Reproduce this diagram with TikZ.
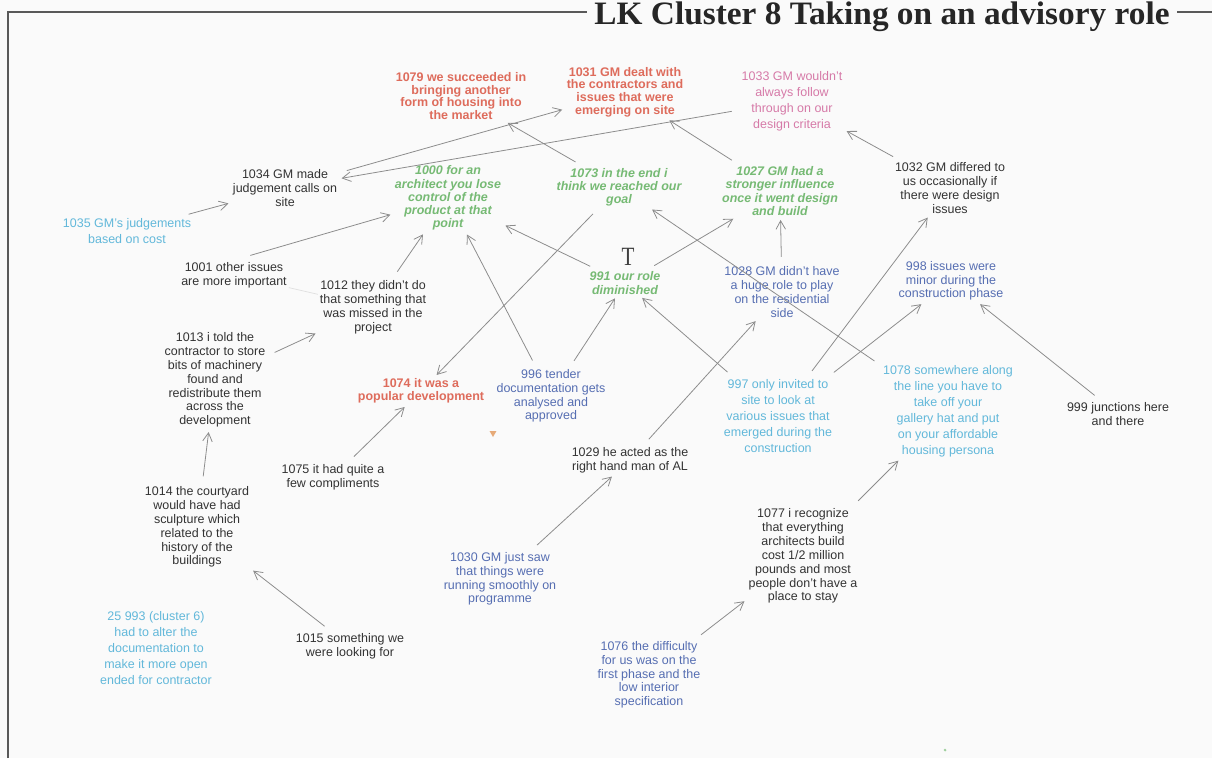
\documentclass[tikz,border=0pt]{standalone}
\usepackage{fontspec}
\setmainfont{Liberation Sans}
\newfontfamily\titlefont{Liberation Serif}
\usetikzlibrary{arrows.meta,positioning,shapes.geometric}
\definecolor{redtext}{RGB}{222,108,92}
\definecolor{pinktext}{RGB}{214,122,168}
\definecolor{greentext}{RGB}{118,186,116}
\definecolor{bluetext}{RGB}{86,110,178}
\definecolor{cyantext}{RGB}{98,184,218}
\definecolor{orangemark}{RGB}{230,170,120}

\begin{document}
\begin{tikzpicture}[x=0.02cm, y=-0.02cm,
  main node/.style={align=center, inner sep=1pt, text=black!80, font=\fontsize{7.1}{7.9}\selectfont},
  wide node/.style={main node, font=\fontsize{7.1}{9.1}\selectfont},
  red node/.style={main node, text=redtext, font=\fontsize{7.1}{7.2}\selectfont\bfseries},
  green node/.style={main node, text=greentext, font=\fontsize{7.1}{7.5}\selectfont\bfseries\itshape},
  blue node/.style={main node, text=bluetext, font=\fontsize{7.1}{7.8}\selectfont},
  cyan node/.style={wide node, text=cyantext},
  pink node/.style={wide node, text=pinktext}]
\fill[white!98!black] (0,0) rectangle (1212,758);
\useasboundingbox (0,0) rectangle (1212,758);
% heading and frame
\node[font=\titlefont\bfseries\fontsize{18.6}{20}\selectfont, text=black!85, anchor=base, inner xsep=4pt, xscale=1.02] (title) at (882,24) {LK Cluster 8 Taking on an advisory role};
\coordinate (frametop) at (8,12);
\coordinate (framebot) at (8,758);
\draw[black!65, line width=1pt] (framebot) -- (frametop) -- (frametop -| title.west);
\draw[black!65, line width=1pt] (title.east |- frametop) -- (1212,12);
\begin{scope}
\node[red node] (v1079) at (461,96) {1079 we succeeded in\\bringing another\\form of housing into\\the market};
\node[red node] (v1031) at (625,92) {1031 GM dealt with\\the contractors and\\issues that were\\emerging on site};
\node[pink node] (v1033) at (792,101) {1033 GM wouldn't\\always follow\\through on our\\design criteria};
\node[main node] (v1034) at (285,188) {1034 GM made\\judgement calls on\\site};
\node[cyan node] (v1035) at (127,231) {1035 GM's judgements\\based on cost};
\node[green node] (v1000) at (448,198) {1000 for an\\architect you lose\\control of the\\product at that\\point};
\node[green node] (v1073) at (619,187) {1073 in the end i\\think we reached our\\goal};
\node[green node] (v1027) at (780,191) {1027 GM had a\\stronger influence\\once it went design\\and build};
\node[main node] (v1032) at (950,188) {1032 GM differed to\\us occasionally if\\there were design\\issues};
\node[main node] (v1001) at (234,275) {1001 other issues\\are more important};
\node[main node] (v1012) at (373,307) {1012 they didn't do\\that something that\\was missed in the\\project};
\node[green node] (v991) at (625,283) {991 our role\\diminished};
\node[blue node] (v1028) at (782,292) {1028 GM didn't have\\a huge role to play\\on the residential\\side};
\node[blue node] (v998) at (951,281) {998 issues were\\minor during the\\construction phase};
\node[main node] (v1013) at (215,380) {1013 i told the\\contractor to store\\bits of machinery\\found and\\redistribute them\\across the\\development};
\node[red node] (v1074) at (421,391) {1074 it was a\\popular development};
\node[blue node] (v996) at (551,396) {996 tender\\documentation gets\\analysed and\\approved};
\node[cyan node] (v997) at (778,416) {997 only invited to\\site to look at\\various issues that\\emerged during the\\construction};
\node[cyan node] (v1078) at (948,411) {1078 somewhere along\\the line you have to\\take off your\\gallery hat and put\\on your affordable\\housing persona};
\node[main node] (v999) at (1118,414) {999 junctions here\\and there};
\node[main node] (v1075) at (333,477) {1075 it had quite a\\few compliments};
\node[main node] (v1029) at (630,460) {1029 he acted as the\\right hand man of AL};
\node[main node] (v1014) at (197,527) {1014 the courtyard\\would have had\\sculpture which\\related to the\\history of the\\buildings};
\node[blue node] (v1030) at (500,579) {1030 GM just saw\\that things were\\running smoothly on\\programme};
\node[main node] (v1077) at (803,556) {1077 i recognize\\that everything\\architects build\\cost 1/2 million\\pounds and most\\people don't have a\\place to stay};
\node[main node] (v1015) at (350,646) {1015 something we\\were looking for};
\node[cyan node] (v993) at (156,648) {25 993 (cluster 6)\\had to alter the\\documentation to\\make it more open\\ended for contractor};
\node[blue node] (v1076) at (649,675) {1076 the difficulty\\for us was on the\\first phase and the\\low interior\\specification};
\end{scope}
% stray marks
\node[font=\titlefont\fontsize{15}{15}\selectfont, text=black!75, xscale=0.8, inner sep=0pt] (cursor) at (628,257) {T};
\node[regular polygon, regular polygon sides=3, shape border rotate=180, fill=orangemark, inner sep=0pt, minimum size=0.16cm] (mark) at (493,433) {};
\node[circle, fill=greentext!70, inner sep=0pt, minimum size=0.06cm] (dot) at (945,750) {};
\begin{scope}[every edge/.style={draw=black!45, line width=0.45pt, -{Straight Barb[length=1.7mm,width=1.9mm]}, shorten <=0.16cm, shorten >=0.05cm}]
%\draw (v) edge (v);
\draw (v1035) edge (v1034);
\draw (v1034) edge (v1031);
\draw (v1033) edge (v1034);
\draw (v1073) edge (v1079);
\draw (v1027) edge (v1031);
\draw (v1032) edge (v1033);
\draw (v1001.north) edge[shorten <=0.34cm] (v1000);
\draw (v1012) edge (v1000);
\draw (v996) edge (v1000);
\draw (v991) edge (v1000);
\draw (v1073) edge (v1074);
\draw (v991) edge (v1027);
\draw (v1078) edge (v1073);
\draw (v1028) edge (v1027);
\draw (v996) edge (v991);
\draw (v997) edge (v991);
\draw (v1029) edge (v1028);
\draw (v997) edge (v1032);
\draw (v997) edge (v998);
\draw (v999) edge (v998);
\draw (v1077) edge (v1078);
\draw (v1076) edge (v1077);
\draw (v1030) edge (v1029);
\draw (v1075) edge (v1074);
\draw (v1015) edge (v1014);
\draw (v1014) edge (v1013);
\draw (v1013) edge (v1012);
\end{scope}
\draw[black!12, line width=0.4pt] (v1001) -- (v1012);
\end{tikzpicture}
\end{document}
